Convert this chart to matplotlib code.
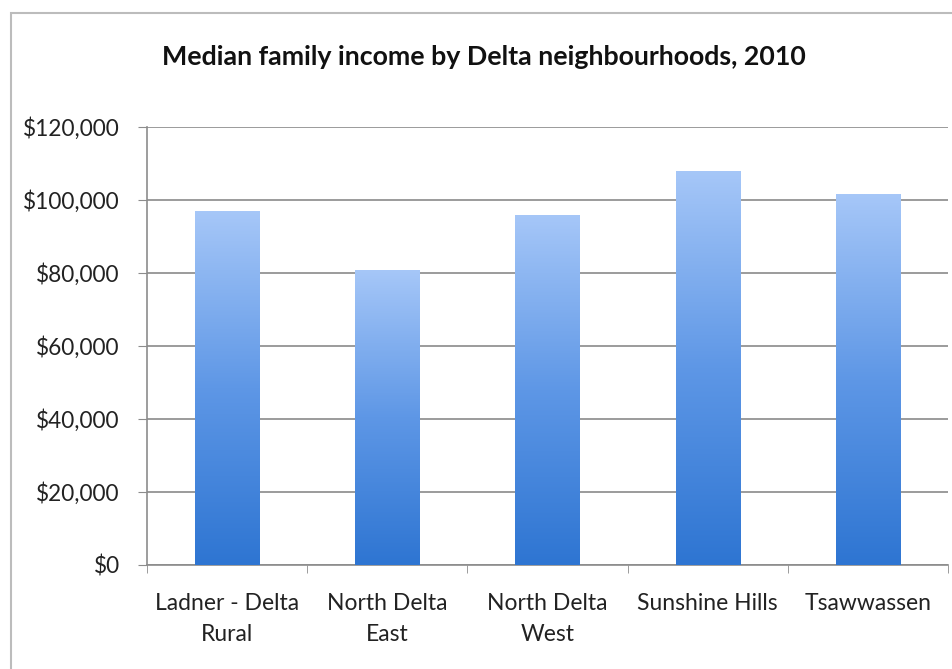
# Median family income by Delta neighbourhoods, 2010 - gradient column chart
import numpy as np
import matplotlib
matplotlib.use('Agg')
import matplotlib.pyplot as plt
from matplotlib.colors import LinearSegmentedColormap
from matplotlib.patches import Rectangle

neighbourhoods = ['Ladner - Delta\nRural', 'North Delta\nEast', 'North Delta\nWest',
                  'Sunshine Hills', 'Tsawwassen']
income = [96900, 80900, 96000, 108000, 101600]
y_ticks = [0, 20000, 40000, 60000, 80000, 100000, 120000]
y_labels = ['$0', '$20,000', '$40,000', '$60,000', '$80,000', '$100,000', '$120,000']

plt.rcParams['font.family'] = ['Lato', 'DejaVu Sans']

fig = plt.figure(figsize=(9.52, 6.69), dpi=100)
fig.patch.set_facecolor('white')

# outer chart border
fig.patches.append(Rectangle((11 / 952, -0.05), 1.0, 1 - 13 / 669 + 0.05,
                             transform=fig.transFigure, fill=False,
                             edgecolor='#bcbcbc', linewidth=1.5))

ax = fig.add_axes([147 / 952, 1 - 565 / 669, 801 / 952, 438 / 669])
x = np.arange(len(income))

grad = LinearSegmentedColormap.from_list('bar', ['#2e75d2', '#5e97e6', '#a6c7f8'])
bars = ax.bar(x, income, width=0.4, color='none', edgecolor='none', zorder=3)
for b in bars:
    x0, y0 = b.get_x(), b.get_y()
    im = ax.imshow(np.linspace(0, 1, 256).reshape(-1, 1), cmap=grad, aspect='auto',
                   origin='lower', extent=[x0, x0 + b.get_width(), y0, y0 + b.get_height()],
                   zorder=3)
    im.set_clip_path(b)

ax.set_xlim(-0.5, len(income) - 0.5)
ax.set_ylim(0, 120000)
ax.set_yticks(y_ticks)
ax.set_yticklabels(y_labels, fontsize=16.3, color='#222222')
ax.set_xticks(x)
ax.set_xticklabels(neighbourhoods, fontsize=16.5, color='#222222', linespacing=1.6)
ax.tick_params(axis='x', length=0, pad=20)
ax.set_xticks(np.arange(-0.5, len(income)), minor=True)
ax.tick_params(axis='x', which='minor', length=6, color='#8c8c8c')
ax.tick_params(axis='y', length=6.5, color='#8c8c8c', pad=13)

ax.grid(axis='y', color='#8a8a8a', linewidth=1.2, zorder=0)
ax.set_axisbelow(True)
for s in ['top', 'right']:
    ax.spines[s].set_visible(False)
for s in ['left', 'bottom']:
    ax.spines[s].set_color('#8c8c8c')
    ax.spines[s].set_linewidth(1.2)

fig.text(484 / 952, 1 - 57 / 669, 'Median family income by Delta neighbourhoods, 2010',
         ha='center', va='center', fontsize=19.3, fontweight='bold', color='#111111')

fig.savefig('out.png', dpi=100)
